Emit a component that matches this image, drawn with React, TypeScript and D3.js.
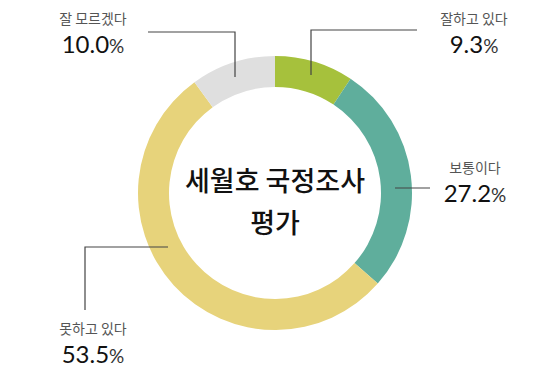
import * as d3 from 'd3'
import React from 'react'

const WIDTH = 550
const HEIGHT = 387

// survey answers, clockwise from 12 o'clock
const categories = ['잘하고 있다', '보통이다', '못하고 있다', '잘 모르겠다']
const values = [9.3, 27.2, 53.5, 10.0]
const colors = ['#a6c13c', '#5fae9c', '#e7d37b', '#dfdfdf']
const titleLines = ['세월호 국정조사', '평가']

const FONT = '"Noto Sans CJK KR", "Noto Sans", sans-serif'
const NUM_FONT = 'Lato, "Noto Sans", sans-serif'

// leader line + label placement per category
const callouts = [
  { line: [[311, 75], [311, 30], [417, 30]], lx: 474, ly: 25 },
  { line: [[395, 188], [430, 188]], lx: 475, ly: 174 },
  { line: [[168, 247], [85, 247], [85, 310]], lx: 93, ly: 335 },
  { line: [[235, 77], [235, 32], [148, 32]], lx: 93, ly: 25 },
]

const App = () => {
  const cx = 275
  const cy = 193
  const outerR = 137
  const innerR = 106

  const pie = d3
    .pie<number>()
    .sort(null)
    .value(d => d)
  const arcs = pie(values)
  const arc = d3
    .arc<d3.PieArcDatum<number>>()
    .innerRadius(innerR)
    .outerRadius(outerR)

  const lineGen = d3.line()

  return (
    <svg
      width={WIDTH}
      height={HEIGHT}
      style={{ position: 'absolute', left: 0, top: 0, background: '#fff' }}
      fontFamily={FONT}
    >
      <g transform={`translate(${cx},${cy})`}>
        {arcs.map((a, i) => (
          <path key={categories[i]} d={arc(a) || ''} fill={colors[i]} />
        ))}
        <text textAnchor="middle" fontSize={27} fontWeight={500} fill="#111">
          {titleLines.map((t, i) => (
            <tspan key={t} x={0} y={i === 0 ? -2 : 40}>
              {t}
            </tspan>
          ))}
        </text>
      </g>

      {callouts.map((c, i) => (
        <g key={categories[i]}>
          <path
            d={lineGen(c.line as [number, number][]) || ''}
            fill="none"
            stroke="#444"
            strokeWidth={1.2}
          />
          <text x={c.lx} y={c.ly - 1} textAnchor="middle" fontSize={14} fill="#555">
            {categories[i]}
          </text>
          <text
            x={c.lx}
            y={c.ly + 28}
            textAnchor="middle"
            fontFamily={NUM_FONT}
            fontSize={24}
            fontWeight={400}
            fill="#111"
          >
            {values[i].toFixed(1)}
            <tspan fontSize={19} fill="#333">%</tspan>
          </text>
        </g>
      ))}
    </svg>
  )
}

export default App
